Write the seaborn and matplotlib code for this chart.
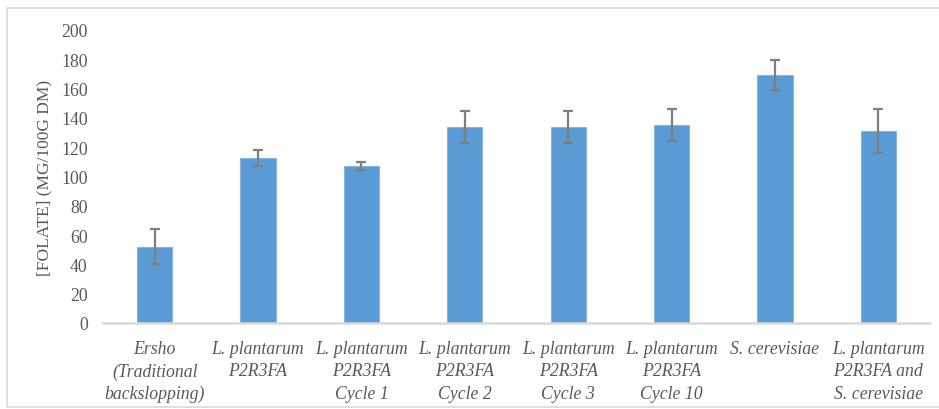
import matplotlib
matplotlib.use("Agg")
import matplotlib.pyplot as plt
import seaborn as sns
import pandas as pd
from matplotlib.patches import Rectangle

# Folate content per fermentation starter
categories = [
    "Ersho\n(Traditional\nbackslopping)",
    "L. plantarum\nP2R3FA",
    "L. plantarum\nP2R3FA\nCycle 1",
    "L. plantarum\nP2R3FA\nCycle 2",
    "L. plantarum\nP2R3FA\nCycle 3",
    "L. plantarum\nP2R3FA\nCycle 10",
    "S. cerevisiae",
    "L. plantarum\nP2R3FA and\nS. cerevisiae",
]
folate = [52.2, 112.8, 107.2, 133.8, 134.0, 135.2, 169.3, 131.0]
folate_sd = [12.0, 5.5, 3.0, 10.6, 11.0, 10.7, 10.5, 15.3]

df = pd.DataFrame({"sample": categories, "folate": folate, "sd": folate_sd})

sns.set_theme(style="white")
plt.rcParams["font.family"] = ["Liberation Serif", "DejaVu Serif"]

W, H = 939, 410
fig = plt.figure(figsize=(W / 100, H / 100), dpi=100)
ax = fig.add_axes([103 / W, 1 - 324 / H, (930 - 103) / W, (324 - 31) / H])

sns.barplot(data=df, x="sample", y="folate", color="#5B9BD5", width=0.34,
            saturation=1, errorbar=None, ax=ax, edgecolor="#86B5E2", linewidth=0.8)

ax.errorbar(x=range(len(df)), y=df["folate"], yerr=df["sd"], fmt="none",
            ecolor="#7F7F7F", elinewidth=1.6, capsize=3.6, capthick=1.6)

ax.set_ylim(0, 200)
ax.set_yticks(range(0, 201, 20))
ax.set_xlim(-0.5, len(df) - 0.5)
ax.tick_params(axis="y", labelsize=12.8, labelcolor="#595959", length=0, pad=11)
ax.tick_params(axis="x", labelsize=12.8, labelcolor="#595959", length=0, pad=12)
for lbl in ax.get_xticklabels():
    lbl.set_fontstyle("italic")
    lbl.set_linespacing(1.42)

ax.set_xlabel("")
ax.set_ylabel("[FOLATE] (MG/100G DM)", fontsize=12.5, color="#595959", labelpad=6)

for side in ["top", "right", "left"]:
    ax.spines[side].set_visible(False)
ax.spines["bottom"].set_color("#D9D9D9")
ax.spines["bottom"].set_linewidth(1.8)
ax.grid(False)

# chart area outline
fig.patches.append(Rectangle((7 / W, 1 - 408 / H), 1.0, (408 - 9) / H,
                             transform=fig.transFigure, fill=False,
                             edgecolor="#D9D9D9", linewidth=1.2, zorder=0))

fig.savefig("out.png", dpi=100)
